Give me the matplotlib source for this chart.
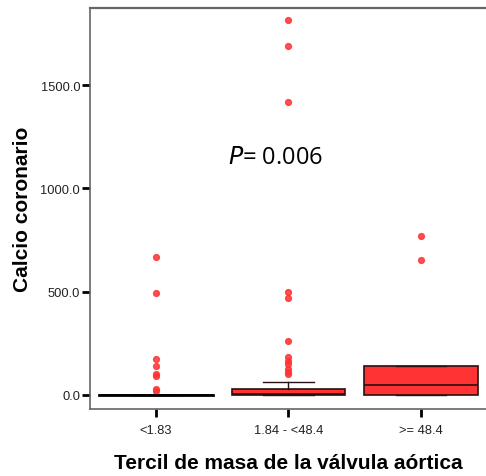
import numpy as np
import matplotlib
matplotlib.use("Agg")
import matplotlib.pyplot as plt

plt.rcParams["font.family"] = ["Liberation Sans", "DejaVu Sans"]

# Datos (calcio coronario por tercil)
grupos = ["<1.83", "1.84 - <48.4", ">= 48.4"]
q1 = [0.0, 0.0, 0.0]
mediana = [0.0, 5.0, 48.0]
q3 = [0.0, 29.0, 138.0]
bigote_inf = [0.0, 0.0, 0.0]
bigote_sup = [0.0, 63.0, 138.0]
atipicos_1 = [670, 495, 175, 140, 100, 90, 30, 20]
atipicos_2 = [1817, 1690, 1420, 498, 470, 261, 184, 165, 150, 126, 111, 102]
atipicos_3 = [770, 653]
atipicos = [atipicos_1, atipicos_2, atipicos_3]

rojo = "#ff3333"

fig = plt.figure(figsize=(4.86, 4.77), dpi=100)
ax = fig.add_axes([0.185, 0.1405, 0.817, 0.8405])

stats = []
for i, g in enumerate(grupos):
    stats.append(dict(label=g, q1=q1[i], med=mediana[i], q3=q3[i],
                      whislo=bigote_inf[i], whishi=bigote_sup[i],
                      fliers=atipicos[i]))

ax.bxp(stats, positions=[1, 2, 3], widths=0.86, patch_artist=True,
       showfliers=True,
       boxprops=dict(facecolor=rojo, edgecolor="#2a1010", linewidth=1.2),
       medianprops=dict(color="#2a1010", linewidth=1.2),
       whiskerprops=dict(color="#2a1010", linewidth=1.0),
       capprops=dict(color="#2a1010", linewidth=1.0),
       capwidths=0.38,
       flierprops=dict(marker="o", markerfacecolor=rojo, markeredgecolor=rojo,
                       markersize=4.2, alpha=0.85))

# primer grupo: todo en cero, linea negra
ax.plot([1 - 0.43, 1 + 0.43], [0, 0], color="black", linewidth=2, zorder=3)

ax.set_xlim(0.5, 3.5)
ax.set_ylim(-68, 1873)
ax.set_yticks([0, 500, 1000, 1500])
ax.set_yticklabels(["0.0", "500.0", "1000.0", "1500.0"])
ax.set_xticks([1, 2, 3])
ax.set_xticklabels(grupos)
ax.tick_params(axis="both", length=6, width=2, color="black",
               labelsize=9.3, labelcolor="#222222")
ax.tick_params(axis="y", pad=1)
ax.tick_params(axis="x", pad=5)

for s in ["left", "bottom"]:
    ax.spines[s].set_color("#666666")
    ax.spines[s].set_linewidth(1.2)
ax.spines["top"].set_color("#666666")
ax.spines["top"].set_linewidth(1.6)
ax.spines["right"].set_visible(False)

ax.set_ylabel("Calcio coronario", fontsize=15, fontweight="bold", labelpad=6)
ax.set_xlabel("Tercil de masa de la válvula aórtica", fontsize=15,
              fontweight="bold", labelpad=12)

ax.text(1.9, 1152, r"$\it{P}$= 0.006", fontsize=17, ha="center",
        va="center", family="Open Sans")

fig.savefig("out.png", dpi=100)
